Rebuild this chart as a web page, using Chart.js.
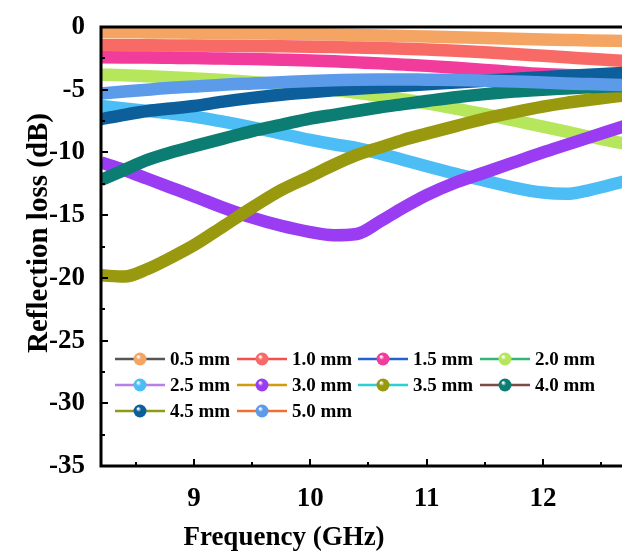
<!DOCTYPE html>
<html><head><meta charset="utf-8">
<script src="https://cdn.jsdelivr.net/npm/chart.js@4/dist/chart.umd.min.js"></script>
<style>html,body{margin:0;padding:0;background:#fff;overflow:hidden}canvas{display:block}</style>
</head><body>
<canvas id="c" width="622" height="559"></canvas>
<script>
// Frequency (GHz)
const frequency = [8.2, 8.4, 8.6, 8.8, 9.0, 9.25, 9.5, 9.75, 10.0, 10.2, 10.4, 10.6, 10.8, 11.0, 11.25, 11.5, 11.75, 12.0, 12.2, 12.4, 12.7];
// Reflection loss (dB) for each thickness
const rl_0_5 = [-0.42,-0.42,-0.43,-0.44,-0.45,-0.47,-0.5,-0.53,-0.57,-0.6,-0.64,-0.68,-0.72,-0.76,-0.82,-0.88,-0.94,-0.99,-1.03,-1.07,-1.12];
const rl_1_0 = [-1.45,-1.45,-1.46,-1.47,-1.48,-1.5,-1.52,-1.54,-1.57,-1.6,-1.64,-1.68,-1.73,-1.8,-1.9,-2.02,-2.15,-2.3,-2.42,-2.53,-2.7];
const rl_1_5 = [-2.42,-2.43,-2.44,-2.46,-2.48,-2.52,-2.56,-2.61,-2.67,-2.74,-2.82,-2.9,-3.0,-3.1,-3.25,-3.42,-3.6,-3.75,-3.82,-3.88,-3.95];
const rl_2_0 = [-3.8,-3.85,-3.92,-4.0,-4.1,-4.22,-4.38,-4.56,-4.78,-5.0,-5.25,-5.5,-5.78,-6.08,-6.5,-6.95,-7.45,-7.95,-8.35,-8.75,-9.3];
const rl_2_5 = [-6.3,-6.5,-6.7,-6.9,-7.15,-7.55,-8.0,-8.5,-9.0,-9.35,-9.65,-10.1,-10.6,-11.1,-11.7,-12.25,-12.8,-13.2,-13.3,-13.0,-12.3];
const rl_3_0 = [-10.8,-11.4,-12.1,-12.8,-13.5,-14.4,-15.2,-15.85,-16.35,-16.6,-16.5,-15.5,-14.4,-13.4,-12.4,-11.6,-10.8,-10.0,-9.4,-8.8,-7.9];
const rl_3_5 = [-19.8,-19.9,-19.3,-18.4,-17.4,-15.9,-14.4,-13.0,-11.9,-11.0,-10.2,-9.6,-9.0,-8.5,-7.9,-7.3,-6.8,-6.35,-6.05,-5.8,-5.45];
const rl_4_0 = [-12.2,-11.4,-10.6,-10.0,-9.5,-8.9,-8.3,-7.8,-7.3,-7.0,-6.7,-6.4,-6.15,-5.9,-5.6,-5.35,-5.15,-5.0,-4.9,-4.8,-4.7];
const rl_4_5 = [-7.35,-7.0,-6.7,-6.5,-6.3,-5.95,-5.65,-5.4,-5.2,-5.05,-4.92,-4.8,-4.68,-4.56,-4.42,-4.28,-4.14,-4.0,-3.9,-3.8,-3.65];
const rl_5_0 = [-5.3,-5.15,-5.0,-4.85,-4.75,-4.6,-4.5,-4.4,-4.3,-4.25,-4.2,-4.18,-4.18,-4.2,-4.22,-4.28,-4.35,-4.42,-4.5,-4.55,-4.62];

const seriesLabels = ['0.5 mm','1.0 mm','1.5 mm','2.0 mm','2.5 mm','3.0 mm','3.5 mm','4.0 mm','4.5 mm','5.0 mm'];
const seriesValues = [rl_0_5, rl_1_0, rl_1_5, rl_2_0, rl_2_5, rl_3_0, rl_3_5, rl_4_0, rl_4_5, rl_5_0];
const seriesColors = ['#F5A563','#F86A66','#F23C9C','#B6E65C','#4DBEF5','#9A3CF2','#99990F','#0B7D73','#0D5F9C','#5B9BEA'];
const legendLineColors = ['#555555','#F0504E','#2563C8','#2EB872','#B77FE8','#D19B12','#2BD0D0','#7B4B45','#8E9A1A','#F07030'];

const xTickValues = [8.5, 9, 9.5, 10, 10.5, 11, 11.5, 12, 12.5];
const yTickValues = [0, -2.5, -5, -7.5, -10, -12.5, -15, -17.5, -20, -22.5, -25, -27.5, -30, -32.5, -35];
const xTitle = 'Frequency (GHz)';
const yTitle = 'Reflection loss (dB)';

const SERIF = "'Liberation Serif','Times New Roman',serif";

const framePlugin = {
  id: 'frame',
  afterDatasetsDraw(chart) {
    const ctx = chart.ctx;
    const {left, top, right, bottom} = chart.chartArea;
    const xs = chart.scales.x, ys = chart.scales.y;
    ctx.save();
    ctx.strokeStyle = '#000';
    ctx.lineWidth = 3;
    ctx.beginPath();
    ctx.moveTo(left, top); ctx.lineTo(right + 2, top);
    ctx.moveTo(left, top - 1.5); ctx.lineTo(left, bottom + 1.5);
    ctx.moveTo(left - 1.5, bottom); ctx.lineTo(right + 2, bottom);
    ctx.stroke();
    ctx.lineWidth = 2;
    ctx.beginPath();
    xTickValues.forEach(v => {
      const px = Math.round(xs.getPixelForValue(v));
      const len = Number.isInteger(v) ? 7 : 4;
      ctx.moveTo(px, bottom); ctx.lineTo(px, bottom - len);
    });
    yTickValues.forEach(v => {
      const py = Math.round(ys.getPixelForValue(v));
      const len = (v % 5 === 0) ? 7 : 4;
      ctx.moveTo(left, py); ctx.lineTo(left + len, py);
    });
    ctx.stroke();
    // axis titles
    ctx.fillStyle = '#000';
    ctx.font = "bold 27px " + SERIF;
    ctx.textAlign = 'center';
    ctx.textBaseline = 'alphabetic';
    ctx.fillText(xTitle, 284, 545);
    ctx.save();
    ctx.translate(47, 233);
    ctx.rotate(-Math.PI / 2);
    ctx.font = "bold 29px " + SERIF;
    ctx.fillText(yTitle, 0, 0);
    ctx.restore();
    // legend
    const colX = [115, 237, 358, 480];
    const rowY = [359, 385, 411];
    ctx.font = "bold 19px " + SERIF;
    ctx.textAlign = 'left';
    ctx.textBaseline = 'middle';
    seriesLabels.forEach((lab, i) => {
      const x0 = colX[i % 4], y0 = rowY[Math.floor(i / 4)];
      ctx.strokeStyle = legendLineColors[i];
      ctx.lineWidth = 2.5;
      ctx.beginPath(); ctx.moveTo(x0, y0); ctx.lineTo(x0 + 50, y0); ctx.stroke();
      const cx = x0 + 25, r = 6.5;
      const g = ctx.createRadialGradient(cx - 2, y0 - 2.5, 0.5, cx, y0, r);
      g.addColorStop(0, '#ffffff');
      g.addColorStop(0.35, seriesColors[i]);
      g.addColorStop(1, seriesColors[i]);
      ctx.fillStyle = g;
      ctx.beginPath(); ctx.arc(cx, y0, r, 0, Math.PI * 2); ctx.fill();
      ctx.fillStyle = '#000';
      ctx.fillText(lab, x0 + 55, y0 + 1);
    });
    ctx.restore();
  }
};

const datasets = seriesLabels.map((lab, i) => ({
  label: lab,
  data: frequency.map((f, j) => ({x: f, y: seriesValues[i][j]})),
  borderColor: seriesColors[i],
  backgroundColor: seriesColors[i],
  borderWidth: 12.5,
  pointRadius: 0,
  cubicInterpolationMode: 'monotone',
  fill: false,
  clip: 0,
  order: seriesLabels.length - 1 - i
}));

new Chart(document.getElementById('c'), {
  type: 'line',
  data: {datasets},
  options: {
    responsive: false,
    animation: false,
    devicePixelRatio: 1,
    layout: {padding: {top: 27, right: 0, left: 0, bottom: 0}},
    plugins: {legend: {display: false}, tooltip: {enabled: false}},
    scales: {
      x: {
        type: 'linear', min: 8.2, max: 12.68,
        afterFit: s => { s.height = 93; },
        afterBuildTicks: s => { s.ticks = xTickValues.map(v => ({value: v})); },
        grid: {display: false}, border: {display: false},
        ticks: {
          callback: v => Number.isInteger(v) ? String(v) : '',
          font: {family: SERIF, size: 27, weight: 'bold'}, color: '#000',
          padding: 9, maxRotation: 0, autoSkip: false
        }
      },
      y: {
        type: 'linear', min: -35, max: 0,
        afterFit: s => { s.width = 101; },
        afterBuildTicks: s => { s.ticks = yTickValues.map(v => ({value: v})); },
        grid: {display: false}, border: {display: false},
        ticks: {
          callback: v => (v % 5 === 0) ? String(v) : '',
          font: {family: SERIF, size: 27, weight: 'bold'}, color: '#000',
          padding: 8, autoSkip: false
        }
      }
    }
  },
  plugins: [framePlugin]
});
</script>
</body></html>
